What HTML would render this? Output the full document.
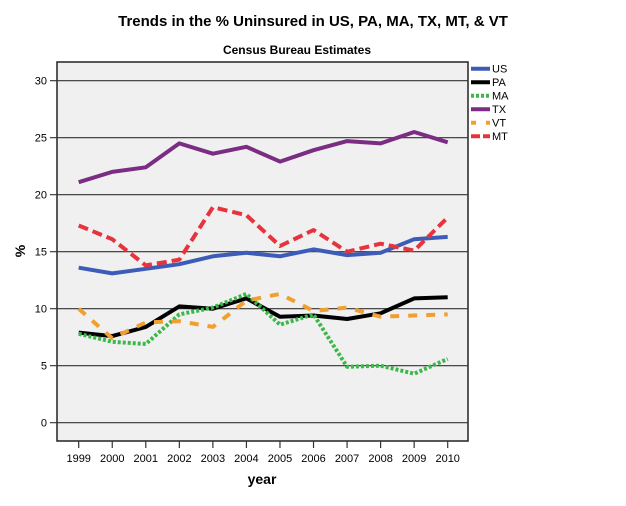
<!DOCTYPE html>
<html><head><meta charset="utf-8"><style>
body{margin:0;background:#fff;font-family:"Liberation Sans",sans-serif}
svg text{font-family:"Liberation Sans",sans-serif}
</style></head><body>
<svg id="chart" width="626" height="501">
<text x="313" y="26" text-anchor="middle" font-size="15" font-weight="bold">Trends in the % Uninsured in US, PA, MA, TX, MT, &amp; VT</text>
<text x="297" y="54" text-anchor="middle" font-size="12" font-weight="bold">Census Bureau Estimates</text>
<rect x="57" y="62" width="411" height="379" fill="#f0f0f0" stroke="#222" stroke-width="1.5"/>
<g id="grid"></g><g id="series"></g><g id="legend"></g>
<text x="262" y="484" text-anchor="middle" font-size="14" font-weight="bold">year</text>
<text transform="translate(25,251) rotate(-90)" text-anchor="middle" font-size="14" font-weight="bold">%</text>
</svg>
<script>
const years=[1999,2000,2001,2002,2003,2004,2005,2006,2007,2008,2009,2010];
const yTicks=[0,5,10,15,20,25,30];
const usVals=[13.6,13.1,13.5,13.9,14.6,14.9,14.6,15.2,14.7,14.9,16.1,16.3];
const paVals=[7.9,7.6,8.4,10.2,10.0,10.9,9.3,9.4,9.1,9.6,10.9,11.0];
const maVals=[7.8,7.1,6.9,9.5,10.1,11.3,8.6,9.5,4.9,5.0,4.3,5.6];
const txVals=[21.1,22.0,22.4,24.5,23.6,24.2,22.9,23.9,24.7,24.5,25.5,24.6];
const vtVals=[10.0,7.4,8.8,8.9,8.4,10.7,11.3,9.8,10.1,9.3,9.4,9.5];
const mtVals=[17.3,16.1,13.8,14.3,18.9,18.2,15.5,16.9,15.0,15.7,15.1,18.0];
const seriesNames=["US","PA","MA","TX","VT","MT"];
const NS="http://www.w3.org/2000/svg";
function xS(i){return 78.7+i*(447.7-78.7)/(years.length-1);}
function yS(v){return 422.7-v*(422.7-80.7)/30;}
function mk(t,a,p){const e=document.createElementNS(NS,t);for(const k in a)e.setAttribute(k,a[k]);p.appendChild(e);return e;}
const grid=document.getElementById('grid');
yTicks.forEach(v=>{
  const l=mk('line',{x1:50,x2:468,y1:yS(v),y2:yS(v),stroke:'#333','stroke-width':1.2},grid);
  
  
  const t=mk('text',{x:47,y:yS(v)+4,'text-anchor':'end','font-size':11},grid);t.textContent=v;
  
  
});
years.forEach((y,i)=>{
  const l=mk('line',{x1:xS(i),x2:xS(i),y1:441,y2:448,stroke:'#333','stroke-width':1.2},grid);
  
  
  const t=mk('text',{x:xS(i),y:462,'text-anchor':'middle','font-size':11},grid);t.textContent=y;
  
  
});
const styles={US:['#3d5cb8',''],PA:['#000',''],MA:['#3cb84a','3 2'],TX:['#7b2c83',''],VT:['#f0a030','9 9'],MT:['#e8323c','10 5']};
const vals={US:usVals,PA:paVals,MA:maVals,TX:txVals,VT:vtVals,MT:mtVals};
const sg=document.getElementById('series'),lg=document.getElementById('legend');
seriesNames.forEach((n,k)=>{
  const d=vals[n].map((v,i)=>(i?'L':'M')+xS(i).toFixed(1)+','+yS(v).toFixed(1)).join('');
  const p=mk('path',{d:d,fill:'none',stroke:styles[n][0],'stroke-width':4,'stroke-dasharray':styles[n][1],'stroke-linejoin':'round'},sg);
  
  
  const ly=68.7+k*13.5;
  const g=mk('g',{},lg);
  
  
  mk('line',{x1:471,x2:490,y1:ly,y2:ly,stroke:styles[n][0],'stroke-width':4,'stroke-dasharray':n==='VT'?'5 10':(n==='MT'?'9 3':styles[n][1])},g);
  const t=mk('text',{x:492,y:ly+4,'font-size':11},g);t.textContent=n;
});
</script>
</body></html>
